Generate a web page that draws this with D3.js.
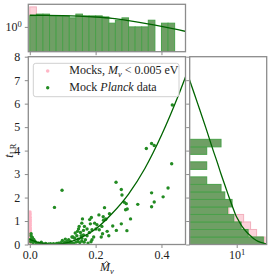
<!DOCTYPE html>
<html>
<head>
<meta charset="utf-8">
<script src="https://cdn.jsdelivr.net/npm/d3@7"></script>
<style>
  body { margin: 0; background: #fff; }
  svg text { font-family: "Liberation Serif", "DejaVu Serif", serif; font-size: 12px; fill: #222; }
  .axis line { stroke: #8c8c8c; stroke-width: 1; }
  .axis text { font-family: "Liberation Serif", serif; font-size: 12px; fill: #222; }
</style>
</head>
<body>
<svg id="chart"></svg>
<script>
// ---- data ----

// scatter: mocks with M_nu < 0.005 eV (pink)
const mMocks = [0.0005, 0.001, 0.0002, 0.0012, 0.0006, 0.0015, 0.0003, 0.001, 0.0008, 0.0002, 0.0014, 0.0005,
  0.001, 0.0003, 0.0012, 0.0007, 0.0001, 0.0011, 0.0006, 0.0015, 0.0004, 0.0009, 0.0002, 0.0013, 0.0007,
  0.0005, 0.001, 0.0003, 0.0012, 0.0008, 0.0001, 0.0006, 0.0011, 0.0004, 0.0009];
const tMocks = [1.38, 1.3, 1.22, 1.15, 1.08, 1.0, 0.94, 0.88, 0.82, 0.76, 0.7, 0.65, 0.6, 0.55, 0.5, 0.46,
  0.42, 0.38, 0.34, 0.3, 0.27, 0.24, 0.21, 0.18, 0.15, 0.12, 0.1, 0.08, 0.06, 0.04, 0.03, 0.02, 0.01, 0.005, 0.0];

// scatter: mock Planck data (green)
const mPlanck = [0.354, 0.370, 0.378, 0.431, 0.433,
  0.262, 0.278, 0.280, 0.287, 0.293, 0.291, 0.296, 0.306, 0.295, 0.278, 0.328, 0.370, 0.378, 0.370, 0.405, 0.420,
  0.098, 0.075,
  0.227, 0.242, 0.231, 0.224, 0.252, 0.240, 0.221, 0.219, 0.211,
  0.187, 0.182, 0.160, 0.158, 0.150, 0.148, 0.145, 0.166, 0.174, 0.181, 0.189, 0.194, 0.201, 0.204,
  0.174, 0.163, 0.156, 0.143, 0.136, 0.128, 0.118, 0.108, 0.099, 0.123, 0.177, 0.146, 0.087, 0.072, 0.057,
  0.041, 0.026, 0.016, 0.006, 0.004, 0.004, 0.006,
  0.223, 0.210, 0.184, 0.197, 0.163, 0.154, 0.138, 0.131, 0.148, 0.158, 0.113, 0.169, 0.189, 0.217, 0.235,
  0.263, 0.230,
  0.010, 0.020, 0.030, 0.035, 0.048, 0.050, 0.063, 0.068, 0.078, 0.082, 0.090, 0.094, 0.102, 0.106, 0.112,
  0.120, 0.127, 0.133, 0.140, 0.152, 0.158, 0.165, 0.186, 0.012, 0.008, 0.002, 0.003];
const tPlanck = [4.09, 4.30, 4.22, 3.44, 5.94,
  2.65, 2.34, 2.11, 1.80, 1.74, 1.48, 1.51, 1.09, 0.59, 0.88, 1.71, 2.20, 1.81, 1.61, 2.03, 2.41,
  2.31, 1.58,
  1.57, 1.31, 1.09, 1.03, 0.79, 0.37, 0.46, 0.77, 0.63,
  1.15, 1.06, 1.09, 0.91, 0.77, 0.66, 0.56, 0.77, 0.66, 0.51, 0.63, 0.32, 0.66, 0.84,
  0.37, 0.41, 0.37, 0.37, 0.27, 0.32, 0.20, 0.23, 0.17, 0.13, 0.06, 0.13, 0.06, 0.03, 0.02,
  0.02, 0.06, 0.13, 0.17, 0.37, 0.46, 0.27,
  1.18, 1.26, 0.88, 0.91, 0.60, 0.51, 0.49, 0.32, 0.23, 0.27, 0.13, 0.20, 0.20, 0.32, 0.56,
  0.60, 1.06,
  0.08, 0.05, 0.04, 0.10, 0.05, 0.01, 0.03, 0.00, 0.01, 0.04, 0.00, 0.08, 0.03, 0.10, 0.05,
  0.03, 0.07, 0.04, 0.10, 0.08, 0.15, 0.10, 0.12, 0.22, 0.30, 0.22, 0.12];

// fitted t_LR(M_hat) curve
const fitM = [0, 0.02, 0.04, 0.06, 0.08, 0.1, 0.12, 0.15, 0.2, 0.25, 0.3, 0.35, 0.4, 0.45, 0.48];
const fitT = [0.22, 0.11, 0.045, 0.008, 0.003, 0.033, 0.097, 0.26, 0.66, 1.32, 2.15, 3.25, 4.65, 6.3, 7.4];

// top histogram of M_hat (density, log y)
const mBinEdges = [0, 0.02, 0.04, 0.06, 0.08, 0.1, 0.12, 0.14, 0.16, 0.18, 0.2, 0.22, 0.24, 0.26, 0.28,
  0.3, 0.32, 0.34, 0.36, 0.38, 0.4, 0.42, 0.44];
const mDensityPlanck = [2.33, 2.67, 2.67, 2.33, 2.33, 2.33, 2.0, 2.67, 2.33, 2.33, 2.33, 2.15, 1.33, 1.67,
  2.0, 1.0, 1.0, 1.0, 1.67, 0, 1.33, 1.33];
const mDensityMocks = [4.64, 2.0, 1.6, 1.2, 0, 0, 0, 0, 0, 0, 0, 0, 0, 0, 0, 0, 0, 0, 0, 0, 0, 0];
const topFitM = [0, 0.05, 0.1, 0.15, 0.2, 0.25, 0.3, 0.35, 0.4, 0.45, 0.48];
const topFitDensity = [2.45, 2.44, 2.39, 2.29, 2.14, 1.93, 1.62, 1.32, 1.05, 0.81, 0.68];

// right histogram of t_LR (counts, log x)
const tBinEdges = [0, 0.32, 0.64, 0.96, 1.28, 1.6, 1.92, 2.24, 2.56, 2.88, 3.2, 3.52, 3.84, 4.16, 4.48];
const tCountsPlanck = [77, 24, 14, 8, 5, 7, 4, 3, 1, 0, 1, 0, 1, 3];
const tCountsMocks = [88, 46, 29, 17, 5.5, 3, 2, 1, 0, 0, 0, 0, 0, 0];
const chiT = [0.02, 0.1, 0.2, 0.35, 0.5, 0.75, 1.0, 1.25, 1.5, 2.0, 2.5, 3.0, 3.5, 4.0, 5.0, 6.0, 7.0, 7.5];
const chiCount = [100, 60, 42, 30, 22.5, 15.5, 11.8, 9.3, 7.8, 5.6, 4.1, 3.0, 2.25, 1.65, 0.92, 0.5, 0.27, 0.2];

// ---- layout ----
const W = 273, H = 280;
const mainBox = {left: 28.3, right: 185.5, top: 56.7, bottom: 244.5};
const topBox = {top: 4.3, bottom: 51.7};
const sideBox = {left: 189.7, right: 266.7};

const greenDot = '#228b22';
const pinkDot = '#ffb6c6';
const lineCol = '#006400';
const barGreen = '#6f9f65', barGreenEdge = '#4aa04a';
const barPink = '#fcd2da', barPinkEdge = '#f2b0bd';
const spineCol = '#8c8c8c';

const svg = d3.select('#chart').attr('width', W).attr('height', H);

const xScale = d3.scaleLinear().domain([-0.0045, 0.473]).range([mainBox.left, mainBox.right]);
const yScale = d3.scaleLinear().domain([0, 8]).range([mainBox.bottom, mainBox.top]);
const yTopScale = d3.scaleLog().domain([0.149, 5.67]).range([topBox.bottom, topBox.top]);
const xSideScale = d3.scaleLog().domain([0.271, 100]).range([sideBox.left, sideBox.right]);

// clip paths for each panel
const defs = svg.append('defs');
function clip(id, x0, y0, x1, y1) {
  defs.append('clipPath').attr('id', id).append('rect')
    .attr('x', x0).attr('y', y0).attr('width', x1 - x0).attr('height', y1 - y0);
}
clip('clip-main', mainBox.left, mainBox.top, mainBox.right, mainBox.bottom);
clip('clip-top', mainBox.left, topBox.top, mainBox.right, topBox.bottom);
clip('clip-side', sideBox.left, mainBox.top, sideBox.right, mainBox.bottom);

// ---- top histogram ----
const gTop = svg.append('g').attr('clip-path', 'url(#clip-top)');
const topBars = (vals, fill, stroke) => gTop.append('g').selectAll('rect')
  .data(vals.map((v, i) => ({v, x0: mBinEdges[i], x1: mBinEdges[i + 1]})).filter(d => d.v > 0))
  .join('rect')
    .attr('x', d => xScale(d.x0))
    .attr('width', d => xScale(d.x1) - xScale(d.x0))
    .attr('y', d => yTopScale(d.v))
    .attr('height', d => topBox.bottom - yTopScale(d.v) + 2)
    .attr('fill', fill)
    .attr('stroke', stroke)
    .attr('stroke-width', 1);
topBars(mDensityMocks, barPink, barPinkEdge);
topBars(mDensityPlanck, barGreen, barGreenEdge);

gTop.append('path')
  .datum(topFitM.map((m, i) => [m, topFitDensity[i]]))
  .attr('fill', 'none').attr('stroke', lineCol).attr('stroke-width', 1.3)
  .attr('d', d3.line().x(d => xScale(d[0])).y(d => yTopScale(d[1])).curve(d3.curveMonotoneX));

// ---- right histogram ----
const gSide = svg.append('g').attr('clip-path', 'url(#clip-side)');
const sideBars = (vals, fill, stroke) => gSide.append('g').selectAll('rect')
  .data(vals.map((v, i) => ({v, t0: tBinEdges[i], t1: tBinEdges[i + 1]})).filter(d => d.v > 0))
  .join('rect')
    .attr('x', sideBox.left - 2)
    .attr('width', d => xSideScale(d.v) - sideBox.left + 2)
    .attr('y', d => yScale(d.t1))
    .attr('height', d => yScale(d.t0) - yScale(d.t1))
    .attr('fill', fill)
    .attr('stroke', stroke)
    .attr('stroke-width', 1);
sideBars(tCountsMocks, barPink, barPinkEdge);
sideBars(tCountsPlanck, barGreen, barGreenEdge);

gSide.append('path')
  .datum(chiT.map((t, i) => [t, chiCount[i]]))
  .attr('fill', 'none').attr('stroke', lineCol).attr('stroke-width', 1.3)
  .attr('d', d3.line().x(d => xSideScale(d[1])).y(d => yScale(d[0])).curve(d3.curveMonotoneY));

// ---- main scatter ----
const gMain = svg.append('g').attr('clip-path', 'url(#clip-main)');
gMain.append('g').selectAll('circle')
  .data(mMocks.map((m, i) => [m, tMocks[i]]))
  .join('circle')
    .attr('cx', d => xScale(d[0])).attr('cy', d => yScale(d[1]))
    .attr('r', 1.8).attr('fill', pinkDot);
gMain.append('g').selectAll('circle')
  .data(mPlanck.map((m, i) => [m, tPlanck[i]]))
  .join('circle')
    .attr('cx', d => xScale(d[0])).attr('cy', d => yScale(d[1]))
    .attr('r', 1.7).attr('fill', greenDot);
gMain.append('path')
  .datum(fitM.map((m, i) => [m, fitT[i]]))
  .attr('fill', 'none').attr('stroke', lineCol).attr('stroke-width', 1.3)
  .attr('d', d3.line().x(d => xScale(d[0])).y(d => yScale(d[1])).curve(d3.curveMonotoneX));

// ---- axes ----
const tick = 3.5;
svg.append('g').attr('class', 'axis')
  .attr('transform', `translate(0,${mainBox.bottom})`)
  .call(d3.axisBottom(xScale).tickValues([0, 0.2, 0.4]).tickFormat(d3.format('.1f')).tickSize(tick).tickPadding(2.5))
  .call(g => g.select('.domain').remove());
svg.append('g').attr('class', 'axis')
  .attr('transform', `translate(${mainBox.left},0)`)
  .call(d3.axisLeft(yScale).ticks(8).tickFormat(d3.format('d')).tickSize(tick).tickPadding(4.5))
  .call(g => g.select('.domain').remove());

// top panel: shared x (no labels), log y with 10^0
svg.append('g').attr('class', 'axis')
  .attr('transform', `translate(0,${topBox.bottom})`)
  .call(d3.axisBottom(xScale).tickValues([0, 0.2, 0.4]).tickFormat('').tickSize(tick))
  .call(g => g.select('.domain').remove());
svg.append('g').attr('class', 'axis')
  .attr('transform', `translate(${mainBox.left},0)`)
  .call(d3.axisLeft(yTopScale).tickValues([1]).tickSize(tick).tickPadding(3))
  .call(g => g.select('.domain').remove())
  .call(g => g.selectAll('.tick text').text(null).call(t => {
    t.append('tspan').text('10');
    t.append('tspan').attr('dy', '-0.5em').style('font-size', '8.5px').text('0');
  }));

// right panel: shared y (no labels), log x with 10^1
svg.append('g').attr('class', 'axis')
  .attr('transform', `translate(${sideBox.left},0)`)
  .call(d3.axisLeft(yScale).ticks(8).tickFormat('').tickSize(tick))
  .call(g => g.select('.domain').remove());
svg.append('g').attr('class', 'axis')
  .attr('transform', `translate(0,${mainBox.bottom})`)
  .call(d3.axisBottom(xSideScale).tickValues([10]).tickSize(tick).tickPadding(2.5))
  .call(g => g.select('.domain').remove())
  .call(g => g.selectAll('.tick text').text(null).call(t => {
    t.append('tspan').text('10');
    t.append('tspan').attr('dy', '-0.5em').style('font-size', '8.5px').text('1');
  }));

// spines
[[mainBox.left, mainBox.top, mainBox.right, mainBox.bottom],
 [mainBox.left, topBox.top, mainBox.right, topBox.bottom],
 [sideBox.left, mainBox.top, sideBox.right, mainBox.bottom]].forEach(([x0, y0, x1, y1]) => {
  svg.append('rect')
    .attr('x', x0).attr('y', y0).attr('width', x1 - x0).attr('height', y1 - y0)
    .attr('fill', 'none').attr('stroke', spineCol).attr('stroke-width', 1.3);
});

// axis titles
svg.append('text')
  .attr('transform', `translate(13,${(mainBox.top + mainBox.bottom) / 2}) rotate(-90)`)
  .attr('text-anchor', 'middle')
  .call(t => {
    t.append('tspan').style('font-style', 'italic').text('t');
    t.append('tspan').attr('dy', 2.5).style('font-size', '8.5px').text('LR');
  });

// x title: M-hat with nu subscript; the hat is a small stroke
const xTitle = svg.append('text').attr('x', 100).attr('y', 271);
xTitle.append('tspan').style('font-style', 'italic').text('M');
xTitle.append('tspan').attr('dy', 2.5).style('font-size', '8.5px').style('font-style', 'italic').text('ν');
svg.append('path')
  .attr('d', 'M104.2,263.6 L106.6,261.4 L109,263.6')
  .attr('fill', 'none').attr('stroke', '#222').attr('stroke-width', 0.8);

// legend
const lg = svg.append('g');
lg.append('rect')
  .attr('x', 33.3).attr('y', 63.3).attr('width', 145.7).attr('height', 33.4).attr('rx', 2.5)
  .attr('fill', '#fff').attr('fill-opacity', 0.8).attr('stroke', '#d0d0d0').attr('stroke-width', 1);
lg.append('circle').attr('cx', 47.7).attr('cy', 71).attr('r', 1.8).attr('fill', pinkDot);
lg.append('circle').attr('cx', 47.7).attr('cy', 87.7).attr('r', 1.7).attr('fill', greenDot);
lg.append('text').attr('x', 69.3).attr('y', 74.3).call(t => {
  t.append('tspan').text('Mocks, ');
  t.append('tspan').style('font-style', 'italic').text('M');
  t.append('tspan').attr('dy', 2.5).style('font-size', '8.5px').style('font-style', 'italic').text('ν');
  t.append('tspan').attr('dy', -2.5).text(' < 0.005 eV');
});
lg.append('text').attr('x', 69.3).attr('y', 91).call(t => {
  t.append('tspan').text('Mock ');
  t.append('tspan').style('font-style', 'italic').text('Planck');
  t.append('tspan').text(' data');
});
</script>
</body>
</html>
